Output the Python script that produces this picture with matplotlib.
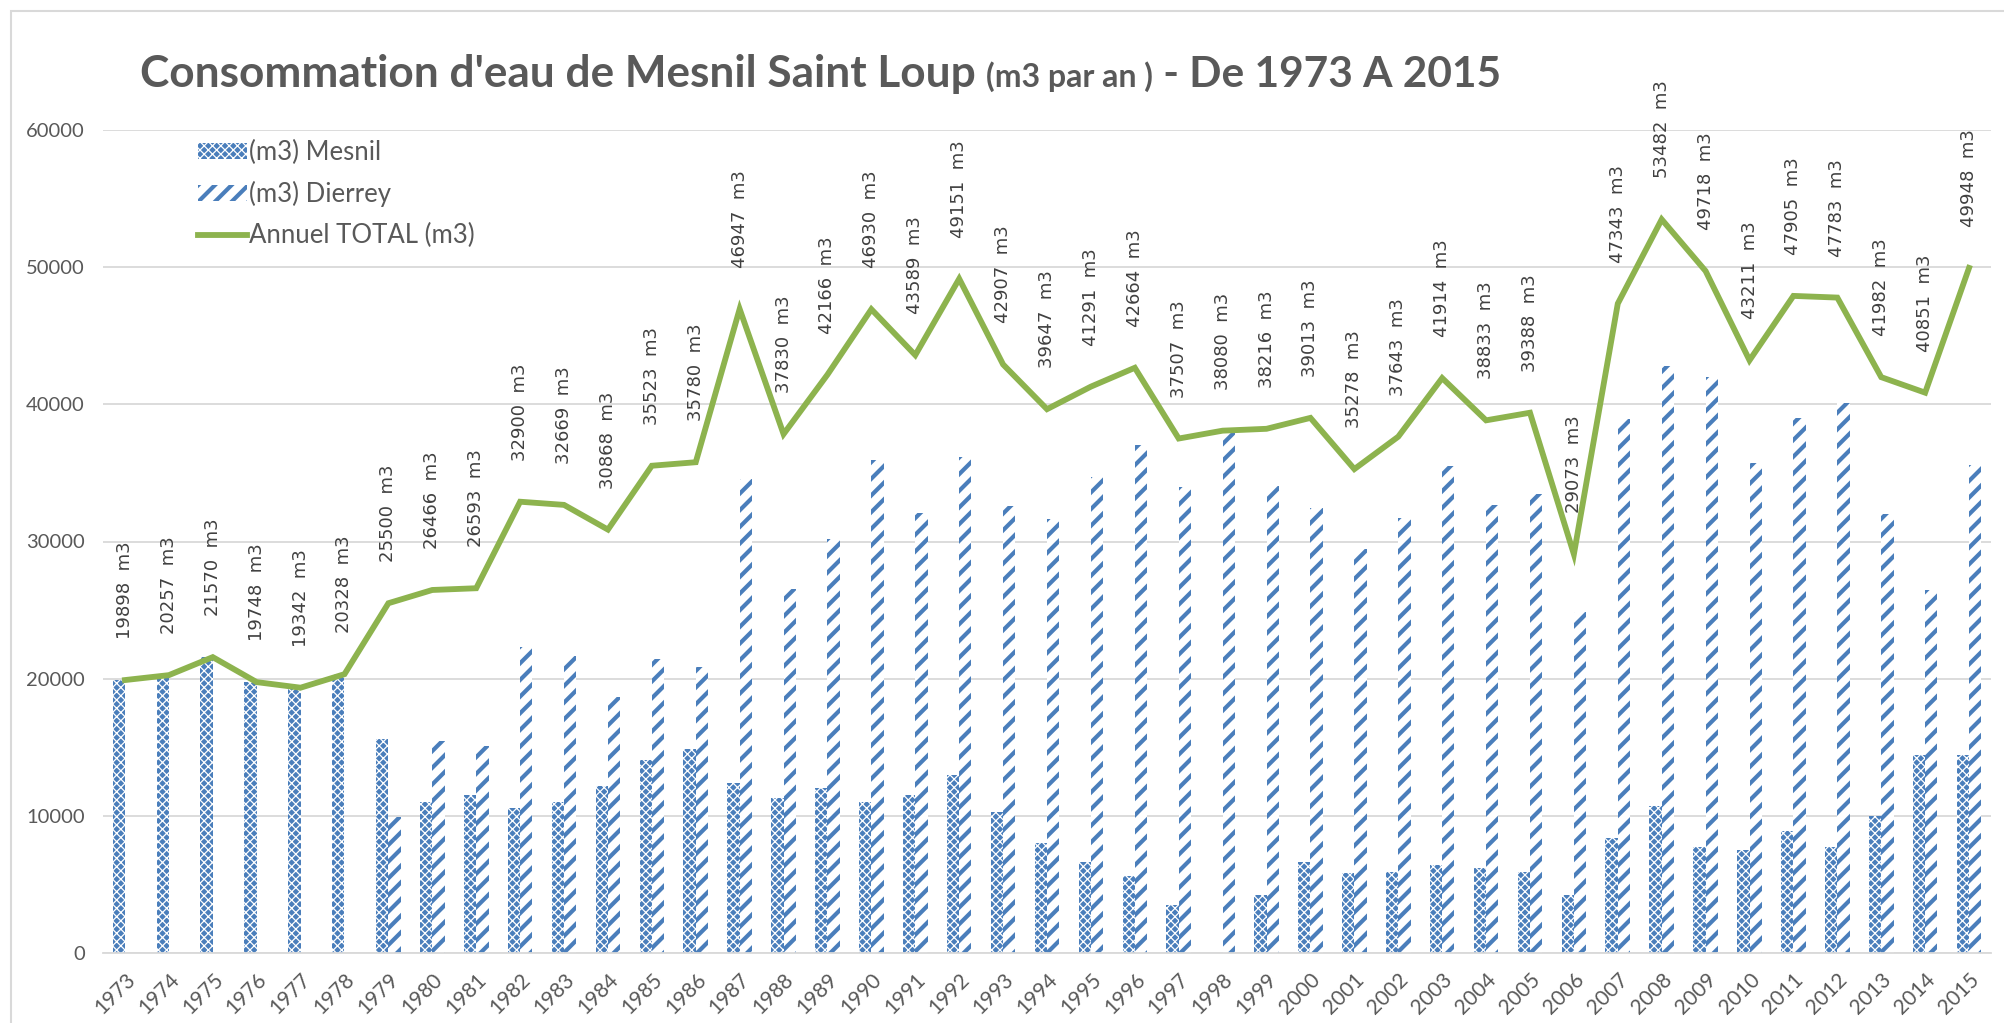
import numpy as np
import matplotlib
matplotlib.use('Agg')
import matplotlib.pyplot as plt
from matplotlib.patches import Rectangle

years = list(range(1973, 2016))
mesnil = [19898, 20257, 21570, 19748, 19342, 20328, 15600, 11000, 11500, 10600,
          11000, 12200, 14100, 14900, 12400, 11300, 12000, 11000, 11500, 13000,
          10300, 8000, 6600, 5600, 3500, 0, 4200, 6600, 5800, 5900,
          6400, 6200, 5900, 4200, 8400, 10700, 7700, 7500, 8900, 7700,
          10000, 14400, 14400]
dierrey = [0, 0, 0, 0, 0, 0, 9900, 15466, 15093, 22300,
           21669, 18668, 21423, 20880, 34547, 26530, 30166, 35930, 32089, 36151,
           32607, 31647, 34691, 37064, 34007, 38080, 34016, 32413, 29478, 31743,
           35514, 32633, 33488, 24873, 38943, 42782, 42018, 35711, 39005, 40083,
           31982, 26451, 35548]
total = [19898, 20257, 21570, 19748, 19342, 20328, 25500, 26466, 26593, 32900,
         32669, 30868, 35523, 35780, 46947, 37830, 42166, 46930, 43589, 49151,
         42907, 39647, 41291, 42664, 37507, 38080, 38216, 39013, 35278, 37643,
         41914, 38833, 39388, 29073, 47343, 53482, 49718, 43211, 47905, 47783,
         41982, 40851, 49948]

plt.rcParams['font.family'] = ['Lato', 'DejaVu Sans']
blue = '#4a7ebb'
green = '#8db34e'
grey = '#595959'
W, H = 2004, 1023

fig = plt.figure(figsize=(W / 100, H / 100), dpi=100)
ax = fig.add_axes([103 / W, 1 - 953 / H, (1991 - 103) / W, (953 - 130) / H])

x = np.arange(len(years))
w = 0.28

with plt.rc_context({'hatch.linewidth': 0.9}):
    b1 = ax.bar(x - w / 2, mesnil, w, color=blue, edgecolor='white', linewidth=0,
                hatch='xxxx', label='(m3) Mesnil', zorder=2)
with plt.rc_context({'hatch.linewidth': 3.0}):
    b2 = ax.bar(x + w / 2, dierrey, w, color='white', edgecolor=blue, linewidth=0,
                hatch='//', label='(m3) Dierrey', zorder=2)
for bars, lw in ((b1, 0.9), (b2, 3.0)):
    for p in bars:
        if hasattr(p, 'set_hatch_linewidth'):
            p.set_hatch_linewidth(lw)

line, = ax.plot(x, total, color=green, lw=4.2, solid_joinstyle='miter',
                label='Annuel TOTAL (m3)', zorder=3)

for xi, v in zip(x, total):
    ax.annotate(f"{v}  m3", (xi, v), xytext=(0, 29.5), textcoords='offset points',
                rotation=90, ha='center', va='bottom', fontsize=13,
                color='#404040', family='DejaVu Sans', annotation_clip=False)

ax.set_xlim(-0.5, len(years) - 0.5)
ax.set_ylim(0, 60000)
ax.set_yticks(range(0, 60001, 10000))
ax.set_yticklabels([str(v) for v in range(0, 60001, 10000)])
ax.set_xticks(x)
ax.set_xticklabels([str(y) for y in years], rotation=45, ha='right',
                   rotation_mode='anchor')
ax.tick_params(axis='both', length=0, labelcolor=grey)
ax.tick_params(axis='y', pad=13, labelsize=14.5)
ax.tick_params(axis='x', pad=12, labelsize=15)
ax.grid(axis='y', color='#d9d9d9', lw=1.3, zorder=0)
ax.set_axisbelow(True)
for s in ('left', 'right', 'top'):
    ax.spines[s].set_visible(False)
ax.spines['bottom'].set_color('#d9d9d9')
ax.spines['bottom'].set_linewidth(1.3)

leg = ax.legend(handles=[b1, b2, line], loc='upper left',
                bbox_to_anchor=(198 / W, 1 - 140 / H),
                bbox_transform=fig.transFigure, frameon=False, fontsize=18.5,
                handlelength=1.9, handleheight=0.6, handletextpad=0.1,
                labelspacing=0.62, borderpad=0, borderaxespad=0, labelcolor=grey)
hs = leg.legend_handles
if hasattr(hs[1], 'set_hatch_linewidth'):
    hs[0].set_hatch_linewidth(0.9)
    hs[1].set_hatch_linewidth(3.0)

fig.patches.append(Rectangle((11 / W, -0.05), 1.2, 1.05 - 11 / H, fill=False,
                             edgecolor='#d9d9d9', lw=1.5, transform=fig.transFigure))

# title in three parts on the same baseline
parts = [("Consommation d'eau de Mesnil Saint Loup ", 31.8),
         ("(m3 par an )", 23),
         (" - De 1973 A 2015", 30.5)]
fig.canvas.draw()
r = fig.canvas.get_renderer()
xpos = 140
for txt, size in parts:
    t = fig.text(xpos / W, 1 - 87 / H, txt, fontsize=size, fontweight='bold',
                 color=grey, va='baseline', ha='left')
    xpos = t.get_window_extent(r).x1

fig.savefig('out.png', dpi=100)
